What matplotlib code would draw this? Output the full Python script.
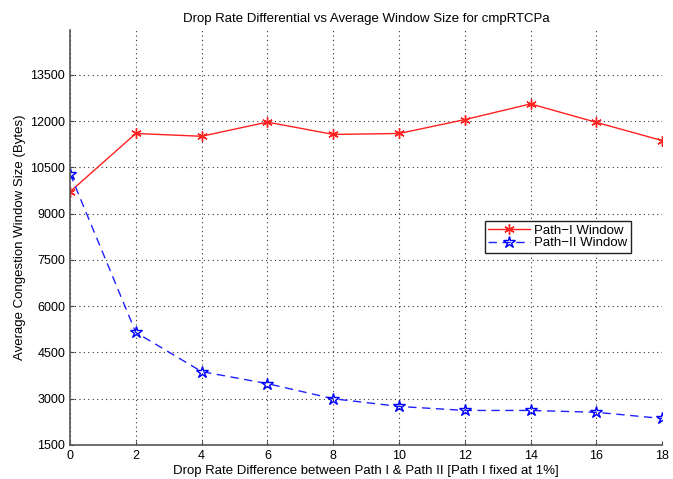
import matplotlib
matplotlib.use("Agg")
import matplotlib.pyplot as plt

plt.rcParams['font.family'] = ['Liberation Sans', 'DejaVu Sans']

x = [0, 2, 4, 6, 8, 10, 12, 14, 16, 18]
path1 = [9710, 11600, 11510, 11970, 11570, 11600, 12050, 12560, 11960, 11370]
path2 = [10300, 5150, 3880, 3490, 3000, 2750, 2620, 2620, 2560, 2360]
yticks = [1500, 3000, 4500, 6000, 7500, 9000, 10500, 12000, 13500]
xticks = [0, 2, 4, 6, 8, 10, 12, 14, 16, 18]

fig = plt.figure(figsize=(6.73, 4.79), dpi=100)
ax = fig.add_axes([0.104, 0.071, 0.880, 0.866])

ax.plot(x, path1, color='#ff2020', lw=1.0, marker=(6, 2, 0), ms=7.5, mew=1.0,
        label='Path\u2212I Window')
ax.plot(x, path2, color='#2020ff', lw=1.0, ls=(0, (6, 4)), marker='*', ms=9,
        mfc='none', mec='#0000ff', mew=1.0, label='Path\u2212II Window')

ax.set_xlim(0, 18)
ax.set_ylim(1500, 14950)
ax.set_xticks(xticks)
ax.set_yticks(yticks)
ax.tick_params(labelsize=9, direction='in', length=3, color='#444444')
ax.grid(True, ls=(0, (1, 3)), color='#333333', lw=0.8)
for s in ['top', 'right']:
    ax.spines[s].set_visible(False)
for s in ['left', 'bottom']:
    ax.spines[s].set_color('#555555')
    ax.spines[s].set_linewidth(1.2)

ax.set_title('Drop Rate Differential vs Average Window Size for cmpRTCPa', fontsize=9.5, pad=6)
ax.set_xlabel('Drop Rate Difference between Path I & Path II [Path I fixed at 1%]', fontsize=9.5, labelpad=2)
ax.set_ylabel('Average Congestion Window Size (Bytes)', fontsize=9.5, labelpad=3)

leg = ax.legend(loc='upper left', bbox_to_anchor=(0.70, 0.54), fontsize=9.5, fancybox=False,
                framealpha=1, edgecolor='#222222', borderpad=0.25, labelspacing=0.05,
                handlelength=3.2, handletextpad=0.3, borderaxespad=0)
leg.get_frame().set_linewidth(1.0)

fig.savefig('out.png', dpi=100)
